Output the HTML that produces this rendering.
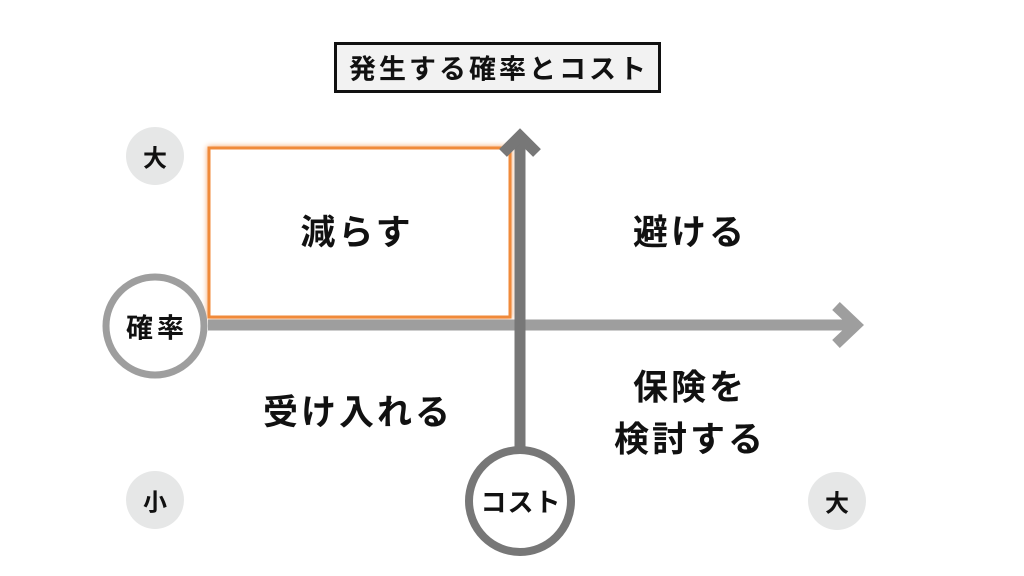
<!DOCTYPE html>
<html><head><meta charset="utf-8"><style>
body{margin:0;width:1024px;height:576px;background:#fff;overflow:hidden;position:relative;font-family:"Liberation Sans","Noto Sans CJK JP",sans-serif;color:#111}
.t{position:absolute;transform:translate(-50%,-50%);white-space:nowrap;font-weight:bold}
.b{font-size:35px;letter-spacing:3px}
</style></head><body>
<svg width="1024" height="576" style="position:absolute;left:0;top:0">
<rect x="209" y="148" width="301" height="169" fill="#fff" stroke="#f08a3a" stroke-width="3" style="filter:drop-shadow(0 0 3px #f5a060)"/>
<line x1="208" y1="325" x2="858" y2="325" stroke="#9e9e9e" stroke-width="11"/>
<polyline points="836,306 856,325 836,344" fill="none" stroke="#9e9e9e" stroke-width="11"/>
<line x1="520" y1="136" x2="520" y2="450" stroke="#777" stroke-width="11"/>
<polyline points="503,153 520,136 537,153" fill="none" stroke="#777" stroke-width="11"/>
<circle cx="155" cy="326" r="49" fill="#fff" stroke="#9e9e9e" stroke-width="7"/>
<circle cx="520" cy="501" r="51" fill="#fff" stroke="#777" stroke-width="8"/>
<circle cx="155" cy="156" r="29" fill="#e6e7e7"/>
<circle cx="155" cy="500" r="29" fill="#e6e7e7"/>
<circle cx="837" cy="501" r="29" fill="#e6e7e7"/>
<rect x="335.5" y="43.5" width="324" height="48" fill="#f2f2f2" stroke="#111" stroke-width="3"/>
</svg>
<div class="t" style="left:499px;top:67px;font-size:27px;letter-spacing:3px">発生する確率とコスト</div>
<div class="t" style="left:155px;top:156px;font-size:24px">大</div>
<div class="t" style="left:155px;top:500px;font-size:24px">小</div>
<div class="t" style="left:837px;top:501px;font-size:24px">大</div>
<div class="t" style="left:157px;top:326px;font-size:27px;letter-spacing:4px">確率</div>
<div class="t" style="left:521px;top:501px;font-size:26px;letter-spacing:1px">コスト</div>
<div class="t b" style="left:357px;top:230px">減らす</div>
<div class="t b" style="left:690px;top:230px">避ける</div>
<div class="t b" style="left:358px;top:410px">受け入れる</div>
<div class="t b" style="left:690px;top:385px">保険を</div>
<div class="t b" style="left:690px;top:437px">検討する</div>
</body></html>
